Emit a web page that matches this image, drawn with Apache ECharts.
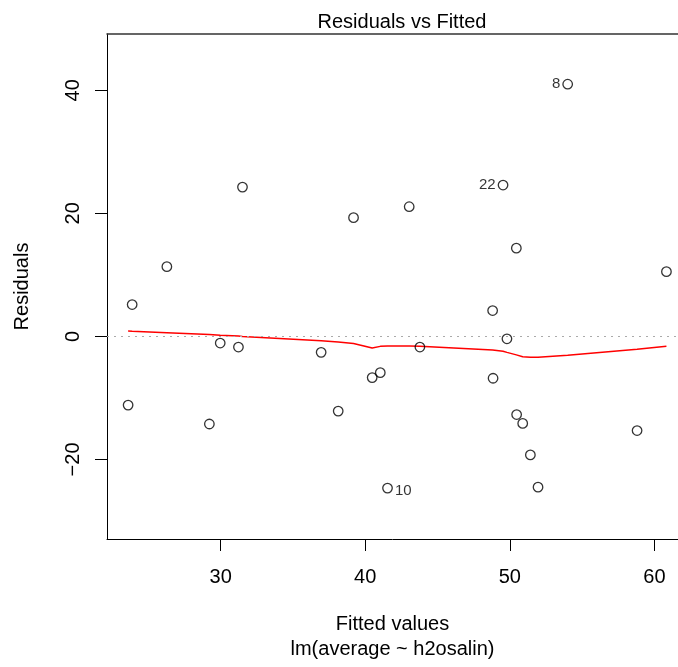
<!DOCTYPE html>
<html>
<head>
<meta charset="utf-8">
<script src="https://cdn.jsdelivr.net/npm/echarts@6/dist/echarts.min.js"></script>
<style>
html,body{margin:0;padding:0;background:#fff;}
#chart{width:678px;height:667px;}
</style>
</head>
<body>
<div id="chart"></div>
<script>
const fitted = [31.51, 39.19, 26.28, 54.0, 49.53, 43.04, 50.45, 60.83, 23.88, 29.97, 31.23, 36.95, 40.48, 41.04, 23.6, 29.22, 38.13, 41.54, 48.81, 49.8, 43.78, 48.84, 50.47, 50.89, 58.8, 51.42, 51.95];
const residuals = [24.27, 19.30, 11.33, 40.99, 24.6, 21.08, 14.34, 10.52, 5.18, -1.08, -1.73, -2.59, -6.7, -5.89, -11.17, -14.24, -12.14, -24.66, 4.2, -0.39, -1.73, -6.8, -12.7, -14.14, -15.3, -19.26, -24.5];
const pointIds = ["", "", "", "8", "22", "", "", "", "", "", "", "", "", "", "", "", "", "10", "", "", "", "", "", "", "", "", ""];
const smoothX = [23.6, 23.88, 26.28, 29.22, 29.97, 31.23, 31.51, 36.95, 38.13, 39.19, 40.48, 41.04, 41.54, 43.04, 43.78, 48.81, 48.84, 49.53, 49.8, 50.45, 50.47, 50.89, 51.42, 51.95, 54.0, 58.8, 60.83];
const smoothY = [0.88, 0.84, 0.6, 0.3, 0.2, 0.05, 0.0, -0.7, -0.9, -1.15, -1.9, -1.62, -1.55, -1.55, -1.6, -2.2, -2.2, -2.4, -2.6, -3.0, -3.0, -3.3, -3.4, -3.4, -3.05, -2.1, -1.62];
const xTicks = [30, 40, 50, 60];
const yTicks = [-20, 0, 20, 40];
const titleText = "Residuals vs Fitted";
const xTitle = "Fitted values";
const xSubTitle = "lm(average ~ h2osalin)";
const yTitle = "Residuals";

const FONT = "Liberation Sans, Arial, Helvetica, sans-serif";
const xMid = (Math.min(...fitted) + Math.max(...fitted)) / 2;

const pointData = fitted.map((x, i) => {
  const d = { value: [x, residuals[i]] };
  if (pointIds[i]) {
    d.label = {
      show: true,
      formatter: pointIds[i],
      position: x > xMid ? 'left' : 'right',
      distance: 2,
      fontSize: 15,
      color: '#000',
      fontFamily: FONT,
      offset: x > xMid ? [0, 0] : [0, 3]
    };
  }
  return d;
});

const chart = echarts.init(document.getElementById('chart'), null, { renderer: 'canvas' });
chart.setOption({
  animation: false,
  backgroundColor: '#fff',
  title: {
    text: titleText,
    left: 397,
    textAlign: 'center',
    top: 7,
    textStyle: { fontFamily: FONT, fontSize: 20, fontWeight: 'normal', color: '#000' }
  },
  grid: { left: 107, right: 0, top: 34, bottom: 124, containLabel: false },
  xAxis: [{
    type: 'value',
    min: 22.14,
    max: 61.63,
    position: 'bottom',
    name: xTitle + '\n' + xSubTitle,
    nameLocation: 'middle',
    nameGap: 73,
    nameTextStyle: { fontFamily: FONT, fontSize: 20, color: '#000', lineHeight: 25 },
    axisLine: { show: true, onZero: false, lineStyle: { color: '#000', width: 1 } },
    axisTick: { show: true, length: 12, customValues: xTicks, lineStyle: { color: '#000' } },
    axisLabel: { show: true, margin: 28, customValues: xTicks, fontFamily: FONT, fontSize: 20, color: '#000' },
    splitLine: { show: false }
  }, {
    type: 'value',
    min: 22.14,
    max: 61.63,
    position: 'top',
    axisLine: { show: true, onZero: false, lineStyle: { color: '#333', width: 1.5 } },
    axisTick: { show: false },
    axisLabel: { show: false },
    splitLine: { show: false }
  }],
  yAxis: {
    type: 'value',
    min: -32.93,
    max: 49.15,
    name: yTitle,
    nameLocation: 'middle',
    nameGap: 75,
    nameRotate: 90,
    nameTextStyle: { fontFamily: FONT, fontSize: 20, color: '#000' },
    axisLine: { show: true, onZero: false, lineStyle: { color: '#000', width: 1 } },
    axisTick: { show: true, length: 12, customValues: yTicks, lineStyle: { color: '#000' } },
    axisLabel: {
      show: true, rotate: 90, margin: 24, customValues: yTicks,
      fontFamily: FONT, fontSize: 20, color: '#000',
      formatter: v => String(v).replace('-', '\u2212')
    },
    splitLine: { show: false }
  },
  series: [{
    type: 'scatter',
    data: pointData,
    symbol: 'circle',
    symbolSize: 9.5,
    itemStyle: { color: 'rgba(0,0,0,0)', borderColor: '#000', borderWidth: 1.3 },
    z: 3,
    markLine: {
      silent: true,
      symbol: ['none', 'none'],
      label: { show: false },
      lineStyle: { color: '#aaa', type: [2, 5], width: 1 },
      data: [{ yAxis: 0 }]
    }
  }, {
    type: 'line',
    data: smoothX.map((x, i) => [x, smoothY[i]]),
    showSymbol: false,
    symbol: 'none',
    smooth: false,
    lineStyle: { color: '#ff0000', width: 1.5 },
    z: 2
  }]
});
</script>
</body>
</html>
